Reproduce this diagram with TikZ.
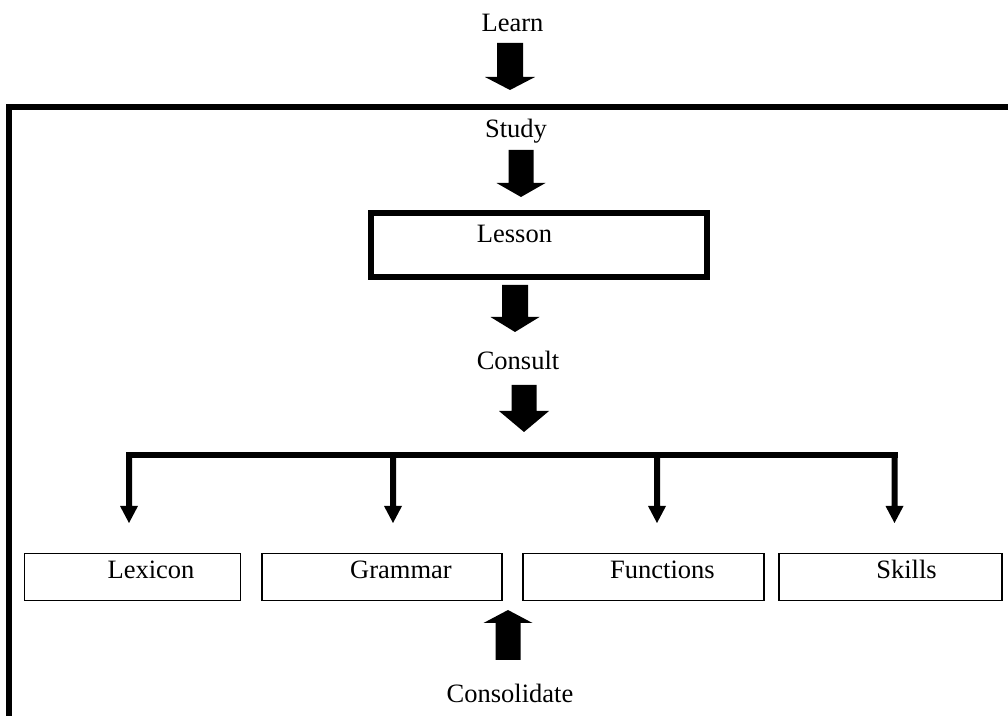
\documentclass[tikz,border=0pt]{standalone}
\usepackage{fontspec}
\setmainfont{Liberation Serif}
\usetikzlibrary{calc}
\tikzset{
  txt/.style={font=\fontsize{13.25pt}{16pt}\selectfont, inner sep=0pt, anchor=base},
  lessonbox/.style={draw, line width=3pt, inner sep=0pt, minimum width=168pt, minimum height=32pt,
    text height=4pt, text depth=6pt, font=\fontsize{13.25pt}{16pt}\selectfont},
  itembox/.style={draw, line width=0.75pt, inner sep=0pt, minimum height=23.5pt,
    text height=6pt, text depth=4pt, font=\fontsize{13.25pt}{16pt}\selectfont},
  heavy/.style={line width=3pt},
  blk/.style n args={3}{fill=black, to path={
    -- ($(\tikztostart)+(-#1,0)$)
    -- ($(\tikztotarget)+(-#1,{-(#3)})$)
    -- ($(\tikztotarget)+(-#2,{-(#3)})$)
    -- (\tikztotarget)
    -- ($(\tikztotarget)+(#2,{-(#3)})$)
    -- ($(\tikztotarget)+(#1,{-(#3)})$)
    -- ($(\tikztostart)+(#1,0)$) -- cycle}}
}
\begin{document}
\begin{tikzpicture}[x=0.5pt,y=-0.5pt]
\useasboundingbox (0,0) rectangle (1008,716);
\clip (0,0) rectangle (1008,716);

% outer frame (clipped at right and bottom)
\coordinate (frR) at (1030,107);
\coordinate (frC) at (9,107);
\coordinate (frB) at (9,740);
\draw[heavy, line join=miter] (frR) -- (frC) -- (frB);

% texts
\node[txt] (learn) at (512.5,32) {Learn};
\node[txt] (study) at (516,138) {Study};
\node[txt] (consult) at (518,370) {Consult};
\node[txt] (consolidate) at (510,703) {Consolidate};

% boxes
\node[lessonbox] (lesson) at (539,245) {Lesson\hspace*{24.5pt}};
\node[itembox, minimum width=108pt] (lexicon) at (132.5,577) {\hspace*{18.5pt}Lexicon};
\node[itembox, minimum width=120pt] (grammar) at (382,577) {\hspace*{19pt}Grammar};
\node[itembox, minimum width=120.5pt] (functions) at (643.5,577) {\hspace*{19pt}Functions};
\node[itembox, minimum width=111.5pt] (skills) at (890.5,577) {\hspace*{16pt}Skills};

% block arrows
\coordinate (a1s) at (510,43);  \coordinate (a1e) at (510,90);
\coordinate (a2s) at (521,150); \coordinate (a2e) at (521,197);
\coordinate (a3s) at (515,285); \coordinate (a3e) at (515,332);
\coordinate (a4s) at (524,385); \coordinate (a4e) at (524,432);
\coordinate (a5s) at (508,660); \coordinate (a5e) at (508,610);
\fill[blk={13}{25}{13}] (a1s) to (a1e);
\fill[blk={12.5}{24.5}{14}] (a2s) to (a2e);
\fill[blk={13}{24.5}{15}] (a3s) to (a3e);
\fill[blk={12.5}{25}{21}] (a4s) to (a4e);
\fill[blk={12.5}{24.5}{-13}] (a5s) to (a5e);

% distribution bar and drops
\coordinate (barL) at (126,455);
\coordinate (barR) at (897.5,455);
\draw[heavy] (barL) -- (barR);
\coordinate (d1s) at (129,455);   \coordinate (d1e) at (129,523);
\coordinate (d2s) at (393,455);   \coordinate (d2e) at (393,523);
\coordinate (d3s) at (657,455);   \coordinate (d3e) at (657,523);
\coordinate (d4s) at (894.5,455); \coordinate (d4e) at (894.5,523);
\fill[blk={3}{9}{17}] (d1s) to (d1e);
\fill[blk={3}{9}{17}] (d2s) to (d2e);
\fill[blk={3}{9}{17}] (d3s) to (d3e);
\fill[blk={3}{9}{17}] (d4s) to (d4e);
\end{tikzpicture}
\end{document}
